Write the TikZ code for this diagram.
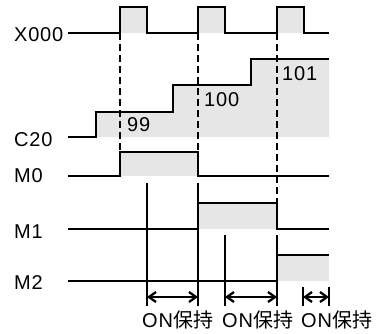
\documentclass[tikz,border=0pt]{standalone}
\usepackage{fontspec}
\setmainfont{Liberation Sans}[LetterSpace=4]
\newfontfamily\cjk{Noto Sans CJK JP}
\usetikzlibrary{arrows.meta}
\definecolor{hold}{HTML}{E6E6E6}
\begin{document}
\begin{tikzpicture}[x=1pt,y=-1pt,
  wave/.style={line width=2.3pt,line join=miter},
  guide/.style={line width=2.3pt,dash pattern=on 7pt off 4pt},
  tickline/.style={line width=2.3pt},
  span/.style={line width=2.3pt,{Straight Barb[length=7pt,width=10pt]}-{Straight Barb[length=7pt,width=10pt]}},
  sig/.style={anchor=west,inner sep=0pt,font=\fontsize{20}{20}\selectfont},
  val/.style={anchor=west,inner sep=0pt,font=\fontsize{20}{20}\selectfont},
  note/.style={anchor=base west,inner sep=0pt,font=\fontsize{20}{20}\selectfont}]
\useasboundingbox (0,0) rectangle (378,333);
% fills
\fill[hold] (120,7) rectangle (147,33);
\fill[hold] (198,7) rectangle (225,33);
\fill[hold] (277,7) rectangle (304,33);
\fill[hold] (96,137) -- (96,112) -- (173,112) -- (173,85) -- (251,85) -- (251,59) -- (329,59) -- (329,137) -- cycle;
\fill[hold] (120,152) rectangle (198,176);
\fill[hold] (198,203) rectangle (277,229);
\fill[hold] (277,255) rectangle (329,281);
% guides
\draw[guide] (120,33) -- (120,152);
\draw[guide] (198,33) -- (198,152);
\draw[guide] (277,33) -- (277,203);
% waveforms
\draw[wave] (68,33) -- (120,33) -- (120,7) -- (147,7) -- (147,33) -- (198,33) -- (198,7) -- (225,7) -- (225,33) -- (277,33) -- (277,7) -- (304,7) -- (304,33) -- (329,33);
\draw[wave] (68,137) -- (96,137) -- (96,112) -- (173,112) -- (173,85) -- (251,85) -- (251,59) -- (329,59);
\draw[wave] (68,176) -- (120,176) -- (120,152) -- (198,152) -- (198,176) -- (329,176);
\draw[wave] (68,229) -- (198,229) -- (198,203) -- (277,203) -- (277,229) -- (329,229);
\draw[wave] (68,281) -- (277,281) -- (277,255) -- (329,255);
% labels
\node[sig] (lx) at (14,35) {X000};
\node[sig] (lc) at (14,139.5) {C20};
\node[sig] (lm0) at (14,176) {M0};
\node[sig] (lm1) at (14,232) {M1};
\node[sig] (lm2) at (14,283) {M2};
\node[val] (v99) at (127,125) {99};
\node[val] (v100) at (204,100) {100};
\node[val] (v101) at (282,73.5) {101};
% hold markers
\coordinate (t1a) at (147,183); \coordinate (t1b) at (147,306);
\coordinate (t2a) at (198,183); \coordinate (t2b) at (198,306);
\coordinate (t3a) at (225,235); \coordinate (t3b) at (225,306);
\coordinate (t4a) at (277,235); \coordinate (t4b) at (277,306);
\coordinate (t5a) at (303,287); \coordinate (t5b) at (303,306);
\coordinate (t6a) at (329,287); \coordinate (t6b) at (329,306);
\draw[tickline] (t1a) -- (t1b);
\draw[tickline] (t2a) -- (t2b);
\draw[tickline] (t3a) -- (t3b);
\draw[tickline] (t4a) -- (t4b);
\draw[tickline] (t5a) -- (t5b);
\draw[tickline] (t6a) -- (t6b);
\coordinate (a1) at (147,297); \coordinate (b1) at (198,297);
\coordinate (a2) at (225,297); \coordinate (b2) at (277,297);
\coordinate (a3) at (303,297); \coordinate (b3) at (329,297);
\draw[span] (a1) -- (b1);
\draw[span] (a2) -- (b2);
\draw[span] (a3) -- (b3);
\node[note] (n1) at (142,327) {ON{\cjk 保持}};
\node[note] (n2) at (222,327) {ON{\cjk 保持}};
\node[note] (n3) at (301,327) {ON{\cjk 保持}};
\end{tikzpicture}
\end{document}
